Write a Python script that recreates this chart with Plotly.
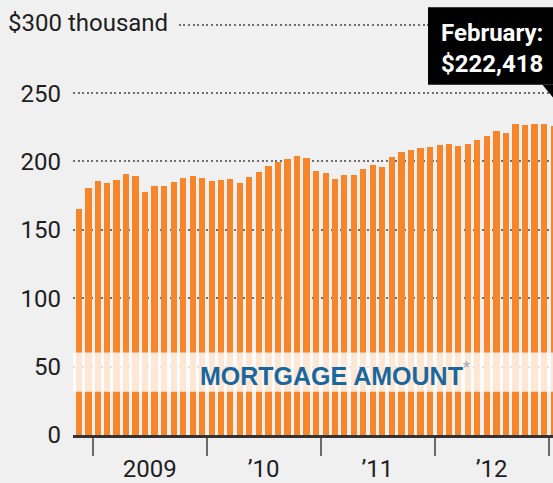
import pandas as pd
import plotly.graph_objects as go

# Monthly average mortgage amount, thousands of dollars (Nov 2008 - Feb 2013)
values = [165.3, 180.5, 185.6, 184.1, 186.6, 190.7, 189.7, 178.0, 181.9, 182.4,
          185.3, 187.8, 189.3, 187.8, 185.8, 186.8, 187.3, 184.4, 188.8, 192.2,
          196.6, 199.5, 201.5, 203.9, 202.4, 193.2, 191.7, 187.5, 190.0, 190.0,
          194.4, 197.3, 196.3, 203.2, 206.9, 208.3, 210.0, 210.7, 211.7, 213.0,
          211.0, 212.5, 215.4, 218.3, 222.0, 220.5, 227.1, 226.6, 227.6, 227.6,
          225.9, 222.418]
months = pd.date_range(start="2008-11-01", periods=len(values), freq="MS")

year_ticks = ["2009-07-01", "2010-07-01", "2011-07-01", "2012-07-01"]
year_labels = ["2009", "\u201910", "\u201911", "\u201912"]
year_bounds = ["2009-01-01", "2010-01-01", "2011-01-01", "2012-01-01", "2013-01-01"]
y_ticks = [0, 50, 100, 150, 200, 250, 300]
y_labels = ["0", "50", "100", "150", "200", "250", ""]

last_label = months[-1].strftime("%B")
last_value = "${:,.0f}".format(values[-1] * 1000)

BG = "#f0f0f0"
ORANGE = "#f7862a"
FONT = "Roboto, Liberation Sans, sans-serif"
TXT = "#1e1e1e"

fig = go.Figure()
fig.add_trace(go.Bar(
    x=months, y=values,
    xperiod="M1", xperiodalignment="middle",
    width=20 * 86400000,
    marker=dict(color=ORANGE, line=dict(width=0)),
    hoverinfo="skip",
))

fig.update_layout(
    width=553, height=483,
    margin=dict(l=73, r=0, t=22, b=48, autoexpand=False),
    paper_bgcolor=BG, plot_bgcolor=BG,
    showlegend=False,
    bargap=0,
    font=dict(family=FONT, color=TXT, size=24),
    xaxis=dict(
        type="date",
        range=["2008-10-28", "2013-01-14"],
        tickmode="array", tickvals=year_ticks, ticktext=year_labels,
        ticks="", ticklabelstandoff=10,
        tickfont=dict(family=FONT, size=24, color=TXT),
        showgrid=False, zeroline=False, automargin=False,
        showline=True, linecolor="#333333", linewidth=2.5,
        minor=dict(tickmode="array", tickvals=year_bounds, ticks="outside",
                   ticklen=18, tickwidth=2, tickcolor="#6a6a6a", showgrid=False),
        fixedrange=True,
    ),
    yaxis=dict(
        range=[0, 302],
        tickmode="array", tickvals=y_ticks, ticktext=y_labels,
        ticks="", ticklabelstandoff=11,
        tickfont=dict(family=FONT, size=24, color=TXT),
        showgrid=True, gridcolor="#6e6e6e", gridwidth=2, griddash="2px,2.6px",
        zeroline=False, showline=False, automargin=False,
        fixedrange=True,
    ),
    shapes=[
        # pale label band across the bars
        dict(type="rect", xref="paper", yref="y", x0=0, x1=1, y0=31.7, y1=60.3,
             fillcolor="rgba(255,255,255,0.8)", line=dict(width=0), layer="above"),
        # callout box
        dict(type="rect", xref="paper", yref="paper", x0=0.7396, x1=1.1,
             y0=0.848, y1=1.036, fillcolor="#000000", line=dict(width=0), layer="above"),
        dict(type="path", xref="paper", yref="paper",
             path="M 0.978 0.848 L 1.02 0.848 L 1.012 0.80 Z",
             fillcolor="#000000", line=dict(width=0), layer="above"),
    ],
    annotations=[
        dict(text="$300 thousand", xref="paper", yref="y", x=0, y=300,
             xanchor="left", yanchor="middle", xshift=-76, yshift=2,
             showarrow=False, bgcolor=BG, borderpad=10,
             font=dict(family=FONT, size=24, color=TXT)),
        dict(text="<b>MORTGAGE AMOUNT</b><span style='color:#9aa7b0'><sup>*</sup></span>",
             xref="paper", yref="y", x=0.545, y=46, yshift=-2,
             xanchor="center", yanchor="middle", showarrow=False,
             font=dict(family="Liberation Sans, Arial, sans-serif", size=25, color="#1a679e")),
        dict(text="<b>" + last_label + ":</b><br><b>" + last_value + "</b>",
             xref="paper", yref="paper", x=0.873, y=0.935,
             xanchor="center", yanchor="middle", showarrow=False, align="center",
             font=dict(family=FONT, size=24, color="#ffffff")),
    ],
)

fig.write_html("out.html", config={"displayModeBar": False},
               post_script="document.body.style.margin='0';")
